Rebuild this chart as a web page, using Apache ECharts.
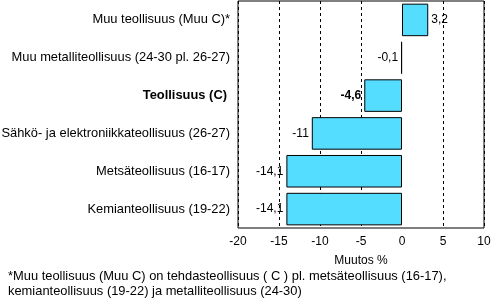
<!DOCTYPE html>
<html><head><meta charset="utf-8">
<script src="https://cdn.jsdelivr.net/npm/echarts@6/dist/echarts.min.js"></script>
<style>html,body{margin:0;padding:0;background:#fff}#c{width:497px;height:298px}</style>
</head><body><div id="c"></div>
<script>
const categories = ["Kemianteollisuus (19-22)","Metsäteollisuus (16-17)","Sähkö- ja elektroniikkateollisuus (26-27)","Teollisuus (C)","Muu metalliteollisuus (24-30 pl. 26-27)","Muu teollisuus (Muu C)*"];
const values = [-14.1, -14.1, -11, -4.6, -0.1, 3.2];
const boldCategory = "Teollisuus (C)";
const axisTitle = "Muutos %";
const footnote = ["*Muu teollisuus (Muu C) on tehdasteollisuus ( C ) pl. metsäteollisuus (16-17),", "kemianteollisuus (19-22) ja metalliteollisuus (24-30)"];

const font = "Arial, 'Liberation Sans', sans-serif";
const chart = echarts.init(document.getElementById('c'), null, {renderer:'canvas'});
chart.setOption({
  animation:false,
  textStyle:{fontFamily:font},
  grid:{left:238,right:13,top:1,bottom:70,outerBoundsMode:'none',containLabel:false,show:true,borderColor:'#000',borderWidth:1,backgroundColor:'transparent'},
  xAxis:{type:'value',min:-20,max:10,interval:5,
    name:axisTitle,nameLocation:'middle',nameGap:27,
    nameTextStyle:{color:'#000',fontSize:12,fontFamily:font},
    axisLine:{show:false},axisTick:{show:false},
    axisLabel:{color:'#000',fontSize:12,fontFamily:font,margin:8},
    splitLine:{show:true,lineStyle:{color:['#000','#000','#000','#000','rgba(0,0,0,0)','#000','#000'],type:[3,3],width:1}}
  },
  yAxis:{type:'category',data:categories,
    axisLine:{show:false},axisTick:{show:false},
    axisLabel:{color:'#000',fontSize:12.9,fontFamily:font,margin:8,
      formatter:v=> v===boldCategory ? '{b|'+v+'}' : v,
      rich:{b:{fontWeight:'bold',fontSize:12.9,color:'#000',fontFamily:font,padding:[0,3,0,0]}}}
  },
  series:[{type:'bar',barCategoryGap:'14%',
    data:values.map((v,i)=>({value:v,
      label:{position:v>=0?'right':'left',fontWeight:categories[i]===boldCategory?'bold':'normal'}})),
    itemStyle:{color:'#55DDFF',borderColor:'#000',borderWidth:1},
    label:{show:true,distance:3,color:'#000',fontSize:12,fontFamily:font,
      formatter:p=>String(p.value).replace('.',',')}
  }],
  graphic:[
    {type:'text',left:8,top:270,style:{text:footnote[0],fontSize:12.9,fontFamily:font,fill:'#000'}},
    {type:'text',left:8,top:285,style:{text:footnote[1],fontSize:12.9,fontFamily:font,fill:'#000'}}
  ]
});
</script></body></html>
